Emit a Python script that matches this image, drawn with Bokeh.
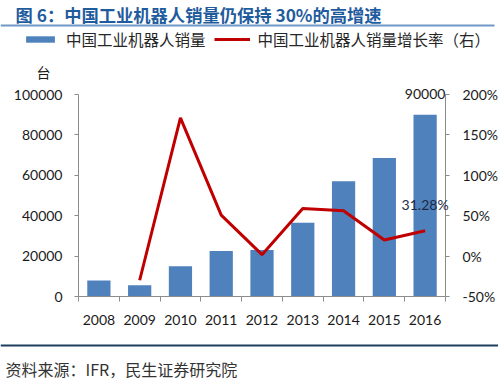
from bokeh.plotting import figure
from bokeh.models import (Range1d, LinearAxis, FixedTicker, PrintfTickFormatter, Label,
                          Legend, LegendItem, BoxAnnotation, ColumnDataSource)
from bokeh.embed import file_html
from bokeh.resources import INLINE

years = ["2008", "2009", "2010", "2011", "2012", "2013", "2014", "2015", "2016"]
sales = [7879, 5525, 14978, 22577, 22987, 36560, 57096, 68556, 90000]
growth = [None, -29.9, 171.1, 50.7, 1.8, 59.0, 56.2, 20.0, 31.28]
left_ticks = [0, 20000, 40000, 60000, 80000, 100000]
right_ticks = [-50, 0, 50, 100, 150, 200]

title_text = "图 6：中国工业机器人销量仍保持 30%的高增速"
bar_name = "中国工业机器人销量"
line_name = "中国工业机器人销量增长率（右）"
unit_text = "台"
source_text = "资料来源：IFR，民生证券研究院"
bar_label = "90000"
line_label = "31.28%"

idx = list(range(len(years)))
CJK = "Noto Sans CJK SC"
NUM = "Lato"
BAR = "#4F81BD"
LINE = "#C00000"
AX = "#8C8C8C"
TXT = "#1a1a1a"

# canvas and plot-area geometry (pixels)
W, H = 498, 380
FL, FR, FT, FB = 78, 445, 94, 296
n = len(years)
ppx = (FR - FL) / n
x_start = -0.5 - FL / ppx
x_end = n - 0.5 + (W - FR) / ppx
ymax = left_ticks[-1]
ppy = (FB - FT) / ymax
y_start = -(H - FB) / ppy
y_end = FB / ppy
pspan = right_ticks[-1] - right_ticks[0]
ppp = (FB - FT) / pspan
p_start = right_ticks[0] - (H - FB) / ppp
p_end = right_ticks[0] + FB / ppp

p = figure(width=W, height=H, output_backend="svg", toolbar_location=None,
           x_range=Range1d(x_start, x_end), y_range=Range1d(y_start, y_end), min_border=0)
p.min_border_left = p.min_border_right = p.min_border_top = p.min_border_bottom = 0
p.extra_y_ranges = {"pct": Range1d(p_start, p_end)}
p.outline_line_color = None
p.xgrid.visible = False
p.ygrid.visible = False

bar_src = ColumnDataSource(dict(x=idx, y=sales))
bars = p.vbar(x="x", top="y", width=0.57, source=bar_src, fill_color=BAR, line_color=None)
line_src = ColumnDataSource(dict(x=idx[1:], y=growth[1:]))
ln = p.line(x="x", y="y", source=line_src, y_range_name="pct", line_color=LINE, line_width=3)

xa = p.xaxis[0]
xa.fixed_location = 0
xa.bounds = (-0.5, n - 0.5)
xa.ticker = FixedTicker(ticks=idx, minor_ticks=[i - 0.5 for i in range(n + 1)])
xa.major_label_overrides = {i: y for i, y in zip(idx, years)}
xa.major_tick_out = 0
xa.major_tick_in = 0
xa.minor_tick_out = 5
xa.minor_tick_in = 0
xa.minor_tick_line_color = AX
xa.axis_line_color = AX
xa.major_label_standoff = 13
xa.major_label_text_font = NUM
xa.major_label_text_font_size = "14px"
xa.major_label_text_color = TXT

ya = p.yaxis[0]
ya.fixed_location = -0.5
ya.ticker = FixedTicker(ticks=left_ticks)
ya.formatter = PrintfTickFormatter(format="%d")
ya.bounds = (left_ticks[0], left_ticks[-1])
ya.axis_line_color = AX
ya.major_tick_line_color = AX
ya.major_tick_out = 4
ya.major_tick_in = 0
ya.minor_tick_line_color = None
ya.major_label_standoff = 12
ya.major_label_text_font = NUM
ya.major_label_text_font_size = "14px"
ya.major_label_text_color = TXT

ra = LinearAxis(y_range_name="pct", ticker=FixedTicker(ticks=right_ticks),
                formatter=PrintfTickFormatter(format="%d%%"),
                bounds=(right_ticks[0], right_ticks[-1]), fixed_location=n - 0.5)
ra.axis_line_color = AX
ra.major_tick_line_color = AX
ra.major_tick_out = 4
ra.major_tick_in = 0
ra.minor_tick_line_color = None
ra.major_label_standoff = 13
ra.major_label_text_font = NUM
ra.major_label_text_font_size = "14px"
ra.major_label_text_color = TXT
p.add_layout(ra, "right")

# data labels
p.add_layout(Label(x=idx[-1], y=sales[-1], text=bar_label, text_align="center", text_baseline="middle",
                   y_offset=21, text_font=NUM, text_font_size="14px", text_color=TXT))
p.add_layout(Label(x=idx[-1], y=growth[-1], y_range_name="pct", text=line_label, text_align="center",
                   text_baseline="middle", y_offset=26, text_font=NUM, text_font_size="14px",
                   text_color="#1c2a48"))

def scr(y):
    return H - y

# header / footer (screen units, origin at bottom-left)
p.add_layout(Label(x=15, y=scr(14), x_units="screen", y_units="screen", text=title_text,
                   text_font=CJK, text_font_size="17.3px", text_font_style="bold",
                   text_color="#1F5C9E", text_baseline="middle"))
p.add_layout(BoxAnnotation(left=0, right=W - 4, bottom=scr(26), top=scr(24), left_units="screen",
                           right_units="screen", bottom_units="screen", top_units="screen",
                           fill_color="#7097C8", fill_alpha=1, line_color=None))
p.add_layout(Label(x=43, y=scr(71.5), x_units="screen", y_units="screen", text=unit_text,
                   text_font=CJK, text_font_size="14px", text_color=TXT,
                   text_baseline="middle", text_align="center"))
p.add_layout(BoxAnnotation(left=0, right=W, bottom=scr(346), top=scr(344), left_units="screen",
                           right_units="screen", bottom_units="screen", top_units="screen",
                           fill_color="#1F3F5F", fill_alpha=1, line_color=None))
p.add_layout(Label(x=5, y=scr(368), x_units="screen", y_units="screen", text=source_text,
                   text_font=CJK, text_font_size="16px", text_color="#333333",
                   text_baseline="middle"))

legend = Legend(items=[LegendItem(label=bar_name, renderers=[bars]),
                       LegendItem(label=line_name, renderers=[ln])],
                location=(22, scr(50)), orientation="horizontal",
                glyph_width=36, glyph_height=8, label_standoff=8, spacing=8,
                padding=0, margin=0, border_line_color=None, background_fill_alpha=0,
                label_text_font=CJK, label_text_font_size="15.5px", label_text_color="#262626")
p.add_layout(legend, "center")

open("out.html", "w").write(file_html(p, INLINE))
